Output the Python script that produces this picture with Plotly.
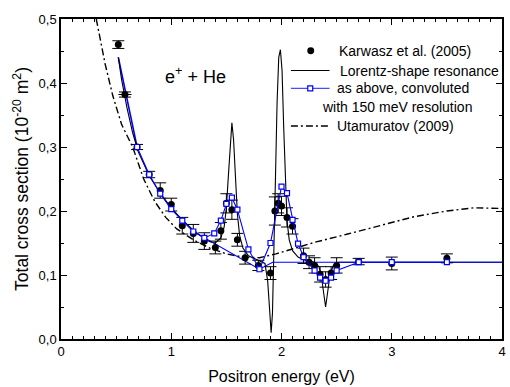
import plotly.graph_objects as go

# ---------------- data ----------------
# Karwasz et al. (2005) measured points
exp_energy = [0.52, 0.58, 0.69, 0.80, 0.90, 1.00, 1.10, 1.20, 1.30, 1.40,
              1.45, 1.50, 1.55, 1.60, 1.67, 1.79, 1.90, 1.94, 1.97, 2.00,
              2.05, 2.10, 2.20, 2.25, 2.30, 2.35, 2.40, 2.45, 2.50, 2.70,
              3.00, 3.50]
exp_sigma = [0.460, 0.382, 0.300, 0.257, 0.232, 0.210, 0.177, 0.165, 0.153, 0.143,
             0.169, 0.212, 0.202, 0.155, 0.127, 0.115, 0.103, 0.200, 0.212, 0.208,
             0.190, 0.176, 0.130, 0.120, 0.115, 0.101, 0.093, 0.103, 0.115, 0.121,
             0.118, 0.126]
exp_err = [0.006, 0.004, 0.004, 0.005, 0.012, 0.010, 0.013, 0.014, 0.013, 0.010,
           0.013, 0.015, 0.015, 0.010, 0.010, 0.008, 0.010, 0.022, 0.015, 0.015,
           0.015, 0.012, 0.012, 0.010, 0.012, 0.012, 0.012, 0.010, 0.012, 0.005,
           0.010, 0.007]
exp_xerr = [0, 0.06] + [0] * 30

# Lorentz-shape resonance curve
lor_energy = [0.52, 0.55, 0.60, 0.65, 0.70, 0.80, 0.90, 1.00, 1.10, 1.20,
              1.30, 1.35, 1.40, 1.45, 1.48, 1.50, 1.52, 1.535, 1.55, 1.565,
              1.58, 1.60, 1.62, 1.65, 1.70, 1.80, 1.85, 1.875, 1.895, 1.906,
              1.918, 1.93, 1.945, 1.96, 1.975, 1.99, 2.005, 2.02, 2.035, 2.05,
              2.07, 2.10, 2.15, 2.20, 2.30, 2.34, 2.36, 2.38, 2.40, 2.42,
              2.44, 2.47, 2.52, 4.00]
lor_sigma = [0.440, 0.405, 0.360, 0.322, 0.293, 0.255, 0.228, 0.205, 0.186, 0.170,
             0.157, 0.152, 0.150, 0.158, 0.175, 0.205, 0.260, 0.310, 0.338, 0.312,
             0.255, 0.195, 0.162, 0.142, 0.130, 0.122, 0.118, 0.090, 0.030, 0.010,
             0.040, 0.120, 0.250, 0.370, 0.440, 0.452, 0.420, 0.330, 0.240, 0.185,
             0.155, 0.138, 0.128, 0.124, 0.120, 0.113, 0.100, 0.075, 0.050, 0.075,
             0.100, 0.115, 0.120, 0.120]

# convoluted with 150 meV resolution
conv_energy = [0.69, 0.80, 0.90, 1.00, 1.10, 1.20, 1.30, 1.39, 1.45, 1.50,
               1.55, 1.60, 1.70, 1.80, 1.90, 2.00, 2.05, 2.10, 2.15, 2.20,
               2.30, 2.35, 2.40, 2.45, 2.50, 2.70, 3.00, 3.50]
conv_sigma = [0.300, 0.257, 0.227, 0.203, 0.185, 0.168, 0.158, 0.165, 0.185, 0.211,
              0.221, 0.202, 0.140, 0.109, 0.150, 0.238, 0.228, 0.186, 0.149, 0.128,
              0.107, 0.096, 0.091, 0.096, 0.107, 0.120, 0.120, 0.120]
# plain blue background line of the convoluted set
convbg_energy = [0.52, 0.69]
convbg_sigma = [0.440, 0.300]
convflat_energy = [1.20, 1.80, 1.92, 4.00]
convflat_sigma = [0.168, 0.109, 0.120, 0.120]

# Utamuratov (2009)
uta_energy = [0.32, 0.40, 0.47, 0.55, 0.65, 0.75, 0.85, 0.95, 1.05, 1.20,
              1.35, 1.50, 1.65, 1.80, 1.95, 2.10, 2.30, 2.60, 2.90, 3.20,
              3.50, 3.75, 4.00]
uta_sigma = [0.500, 0.430, 0.380, 0.335, 0.300, 0.250, 0.215, 0.190, 0.172, 0.155,
             0.142, 0.133, 0.128, 0.127, 0.133, 0.141, 0.151, 0.164, 0.178, 0.191,
             0.200, 0.205, 0.204]

x_ticks = [0, 1, 2, 3, 4]
y_ticks = [0.0, 0.1, 0.2, 0.3, 0.4, 0.5]

FONT = "Liberation Sans, Arial, sans-serif"
BLUE = "#0000ff"
DASHDOT = "7px,3px,2px,3px"

fig = go.Figure()

fig.add_trace(go.Scatter(
    x=uta_energy, y=uta_sigma, mode="lines",
    line=dict(color="black", width=1.4, dash=DASHDOT), showlegend=False))

fig.add_trace(go.Scatter(
    x=convbg_energy, y=convbg_sigma, mode="lines",
    line=dict(color=BLUE, width=1.6), showlegend=False))

fig.add_trace(go.Scatter(
    x=lor_energy, y=lor_sigma, mode="lines",
    line=dict(color="black", width=1.1), showlegend=False))

fig.add_trace(go.Scatter(
    x=convflat_energy, y=convflat_sigma, mode="lines",
    line=dict(color=BLUE, width=1.1), showlegend=False))

fig.add_trace(go.Scatter(
    x=exp_energy, y=exp_sigma, mode="markers",
    marker=dict(symbol="circle", size=7, color="black"),
    error_y=dict(type="data", array=exp_err, visible=True, color="black",
                 thickness=1, width=6),
    error_x=dict(type="data", array=exp_xerr, visible=True, color="black",
                 thickness=1, width=0),
    showlegend=False))

fig.add_trace(go.Scatter(
    x=conv_energy, y=conv_sigma, mode="lines+markers",
    line=dict(color=BLUE, width=1.1),
    marker=dict(symbol="square", size=5, color="white",
                line=dict(color=BLUE, width=1.2)),
    showlegend=False))

# ---------------- manual legend (paper coordinates) ----------------
def px_x(p):
    return (p - 61) / 445.0

def px_y(p):
    return (342 - p) / 323.0

shapes = []
annotations = []

# Karwasz
cx, cy = px_x(313), px_y(51)
rx, ry = 3.5 / 445.0, 3.5 / 323.0
shapes.append(dict(type="circle", xref="paper", yref="paper",
                   x0=cx - rx, x1=cx + rx, y0=cy - ry, y1=cy + ry,
                   fillcolor="black", line=dict(color="black", width=0)))
# Lorentz
shapes.append(dict(type="line", xref="paper", yref="paper",
                   x0=px_x(293), x1=px_x(332), y0=px_y(71), y1=px_y(71),
                   line=dict(color="black", width=1.1)))
# convoluted
shapes.append(dict(type="line", xref="paper", yref="paper",
                   x0=px_x(293), x1=px_x(332), y0=px_y(89), y1=px_y(89),
                   line=dict(color="#4a4aff", width=1.3)))
sx, sy = px_x(312.5), px_y(89)
hx, hy = 2.5 / 445.0, 2.5 / 323.0
shapes.append(dict(type="rect", xref="paper", yref="paper",
                   x0=sx - hx, x1=sx + hx, y0=sy - hy, y1=sy + hy,
                   fillcolor="white", line=dict(color=BLUE, width=1.2)))
# Utamuratov
shapes.append(dict(type="line", xref="paper", yref="paper",
                   x0=px_x(293), x1=px_x(332), y0=px_y(127), y1=px_y(127),
                   line=dict(color="black", width=1.4, dash=DASHDOT)))

legend_texts = [
    ("Karwasz et al. (2005)", 340, 51),
    ("Lorentz-shape resonance", 341, 71),
    ("as above, convoluted", 337, 89),
    ("with 150 meV resolution", 322, 108),
    ("Utamuratov (2009)", 337, 127),
]
for txt, lx, ly in legend_texts:
    annotations.append(dict(text=txt, xref="paper", yref="paper",
                            x=px_x(lx), y=px_y(ly), xanchor="left", yanchor="middle",
                            showarrow=False,
                            font=dict(family=FONT, size=14, color="black")))

annotations.append(dict(text="e<sup>+</sup> + He", xref="paper", yref="paper",
                        x=px_x(197), y=px_y(76), xanchor="center", yanchor="middle",
                        showarrow=False,
                        font=dict(family=FONT, size=18, color="black")))

fig.update_layout(
    width=510, height=387,
    margin=dict(l=61, r=4, t=19, b=45),
    paper_bgcolor="white", plot_bgcolor="white",
    separators=",.",
    font=dict(family=FONT, size=13, color="black"),
    shapes=shapes, annotations=annotations,
    showlegend=False,
)

fig.update_xaxes(
    range=[0, 4], tickvals=x_ticks, ticks="inside", ticklen=6, tickwidth=1,
    tickcolor="black", showline=True, linecolor="black", linewidth=1.5,
    mirror="allticks", showgrid=False, zeroline=False,
    tickfont=dict(family=FONT, size=13),
    minor=dict(dtick=0.1, ticks="inside", ticklen=3.5, tickcolor="black", tickwidth=1, showgrid=False),
    title=dict(text="Positron energy (eV)", font=dict(family=FONT, size=16), standoff=12),
)
fig.update_yaxes(
    range=[0, 0.5], tickvals=y_ticks, tickformat=".1f", ticks="inside", ticklen=6, tickwidth=1,
    tickcolor="black", showline=True, linecolor="black", linewidth=1.5,
    mirror="allticks", showgrid=False, zeroline=False,
    tickfont=dict(family=FONT, size=13),
    minor=dict(dtick=0.05, ticks="inside", ticklen=3.5, tickcolor="black", tickwidth=1, showgrid=False),
    title=dict(text="Total cross section (10<sup>-20</sup> m<sup>2</sup>)",
               font=dict(family=FONT, size=17.5), standoff=5),
)

fig.write_html("out.html")
